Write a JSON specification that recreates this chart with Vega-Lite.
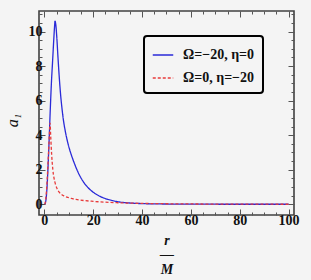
{
  "$schema": "https://vega.github.io/schema/vega-lite/v6.json",
  "width": 255,
  "height": 204,
  "autosize": "none",
  "padding": {"left": 39, "top": 11, "right": 17, "bottom": 65},
  "background": "#f4f4f4",
  "config": {
    "view": {"stroke": "#404040", "strokeWidth": 1.6, "fill": "#f4f4f4"},
    "axis": {
      "domain": false,
      "grid": false,
      "labelFont": "Liberation Serif",
      "labelFontWeight": "bold",
      "labelFontSize": 14,
      "labelColor": "#111",
      "tickColor": "#555",
      "tickWidth": 1,
      "titleFont": "Liberation Serif",
      "titleColor": "#111"
    },
    "legend": {
      "orient": "none",
      "legendX": 105,
      "legendY": 25,
      "strokeColor": "#000",
      "strokeWidth": 2,
      "cornerRadius": 3,
      "padding": 8,
      "fillColor": "#f4f4f4",
      "labelFont": "Liberation Serif",
      "labelFontWeight": "bold",
      "labelFontSize": 14,
      "labelColor": "#111",
      "symbolType": "stroke",
      "symbolSize": 420,
      "symbolStrokeWidth": 1.3,
      "rowPadding": 5,
      "labelOffset": 9
    }
  },
  "data": {
    "values": [
      {"s": "Ω=−20, η=0", "r": 0.3, "a": 0},
      {"s": "Ω=−20, η=0", "r": 0.8, "a": 0.4},
      {"s": "Ω=−20, η=0", "r": 1.2, "a": 1.2},
      {"s": "Ω=−20, η=0", "r": 1.6, "a": 2.4},
      {"s": "Ω=−20, η=0", "r": 2.0, "a": 3.8},
      {"s": "Ω=−20, η=0", "r": 2.45, "a": 5.5},
      {"s": "Ω=−20, η=0", "r": 2.9, "a": 7.0},
      {"s": "Ω=−20, η=0", "r": 3.4, "a": 8.3},
      {"s": "Ω=−20, η=0", "r": 3.9, "a": 9.6},
      {"s": "Ω=−20, η=0", "r": 4.2, "a": 10.3},
      {"s": "Ω=−20, η=0", "r": 4.4, "a": 10.6},
      {"s": "Ω=−20, η=0", "r": 4.7, "a": 10.4},
      {"s": "Ω=−20, η=0", "r": 5.1, "a": 9.7},
      {"s": "Ω=−20, η=0", "r": 5.6, "a": 8.5},
      {"s": "Ω=−20, η=0", "r": 6.2, "a": 7.2},
      {"s": "Ω=−20, η=0", "r": 6.7, "a": 6.3},
      {"s": "Ω=−20, η=0", "r": 7.2, "a": 5.6},
      {"s": "Ω=−20, η=0", "r": 7.8, "a": 4.9},
      {"s": "Ω=−20, η=0", "r": 8.5, "a": 4.3},
      {"s": "Ω=−20, η=0", "r": 9.3, "a": 3.75},
      {"s": "Ω=−20, η=0", "r": 10.2, "a": 3.25},
      {"s": "Ω=−20, η=0", "r": 11.2, "a": 2.8},
      {"s": "Ω=−20, η=0", "r": 12.5, "a": 2.3},
      {"s": "Ω=−20, η=0", "r": 14, "a": 1.8},
      {"s": "Ω=−20, η=0", "r": 16, "a": 1.3},
      {"s": "Ω=−20, η=0", "r": 18, "a": 0.95},
      {"s": "Ω=−20, η=0", "r": 20, "a": 0.7},
      {"s": "Ω=−20, η=0", "r": 22.5, "a": 0.48},
      {"s": "Ω=−20, η=0", "r": 25, "a": 0.33},
      {"s": "Ω=−20, η=0", "r": 28, "a": 0.21},
      {"s": "Ω=−20, η=0", "r": 31, "a": 0.13},
      {"s": "Ω=−20, η=0", "r": 35, "a": 0.075},
      {"s": "Ω=−20, η=0", "r": 40, "a": 0.04},
      {"s": "Ω=−20, η=0", "r": 45, "a": 0.025},
      {"s": "Ω=−20, η=0", "r": 50, "a": 0.015},
      {"s": "Ω=−20, η=0", "r": 60, "a": 0.007},
      {"s": "Ω=−20, η=0", "r": 70, "a": 0.004},
      {"s": "Ω=−20, η=0", "r": 85, "a": 0.002},
      {"s": "Ω=−20, η=0", "r": 100, "a": 0.001},
      {"s": "Ω=0, η=−20", "r": 0.2, "a": 0},
      {"s": "Ω=0, η=−20", "r": 0.6, "a": 0.3},
      {"s": "Ω=0, η=−20", "r": 1.0, "a": 1.0},
      {"s": "Ω=0, η=−20", "r": 1.4, "a": 2.0},
      {"s": "Ω=0, η=−20", "r": 1.8, "a": 3.2},
      {"s": "Ω=0, η=−20", "r": 2.1, "a": 4.1},
      {"s": "Ω=0, η=−20", "r": 2.35, "a": 4.7},
      {"s": "Ω=0, η=−20", "r": 2.6, "a": 4.0},
      {"s": "Ω=0, η=−20", "r": 3.0, "a": 2.9},
      {"s": "Ω=0, η=−20", "r": 3.5, "a": 2.0},
      {"s": "Ω=0, η=−20", "r": 4.0, "a": 1.5},
      {"s": "Ω=0, η=−20", "r": 4.5, "a": 1.2},
      {"s": "Ω=0, η=−20", "r": 5.1, "a": 0.95},
      {"s": "Ω=0, η=−20", "r": 6.0, "a": 0.72},
      {"s": "Ω=0, η=−20", "r": 7.0, "a": 0.58},
      {"s": "Ω=0, η=−20", "r": 8.0, "a": 0.49},
      {"s": "Ω=0, η=−20", "r": 9.2, "a": 0.42},
      {"s": "Ω=0, η=−20", "r": 11, "a": 0.34},
      {"s": "Ω=0, η=−20", "r": 13, "a": 0.28},
      {"s": "Ω=0, η=−20", "r": 16, "a": 0.22},
      {"s": "Ω=0, η=−20", "r": 20, "a": 0.17},
      {"s": "Ω=0, η=−20", "r": 25, "a": 0.12},
      {"s": "Ω=0, η=−20", "r": 30, "a": 0.09},
      {"s": "Ω=0, η=−20", "r": 36, "a": 0.065},
      {"s": "Ω=0, η=−20", "r": 45, "a": 0.04},
      {"s": "Ω=0, η=−20", "r": 55, "a": 0.025},
      {"s": "Ω=0, η=−20", "r": 70, "a": 0.012},
      {"s": "Ω=0, η=−20", "r": 85, "a": 0.006},
      {"s": "Ω=0, η=−20", "r": 100, "a": 0.003}
    ]
  },
  "layer": [
    {
      "mark": {"type": "line", "strokeWidth": 1.3, "interpolate": "monotone"},
      "encoding": {
        "x": {
          "field": "r", "type": "quantitative",
          "scale": {"domain": [-2.17, 102.2], "nice": false, "zero": false},
          "axis": {
            "orient": "bottom",
            "values": [0,5,10,15,20,25,30,35,40,45,50,55,60,65,70,75,80,85,90,95,100],
            "labelExpr": "datum.value % 20 === 0 ? format(datum.value, 'd') : ''",
            "tickSize": {"condition": {"test": "datum.value % 20 === 0", "value": -6}, "value": -3},
            "labelPadding": 4,
            "title": ["r", "—", "M"],
            "titleFontSize": 14,
            "titleFontStyle": "italic",
            "titleFontWeight": "bold",
            "titleLineHeight": 14.5,
            "titleBaseline": "top",
            "titleY": 18
          }
        },
        "y": {
          "field": "a", "type": "quantitative",
          "scale": {"domain": [-0.62, 11.19], "nice": false, "zero": false},
          "axis": {
            "orient": "left",
            "values": [0,0.5,1,1.5,2,2.5,3,3.5,4,4.5,5,5.5,6,6.5,7,7.5,8,8.5,9,9.5,10,10.5,11],
            "labelExpr": "datum.value % 2 === 0 ? format(datum.value, 'd') : ''",
            "tickSize": {"condition": {"test": "datum.value % 2 === 0", "value": -6}, "value": -3},
            "labelPadding": 3,
            "title": "a₁",
            "titleFontSize": 16,
            "titleFontStyle": "italic",
            "titleFontWeight": "normal",
            "titleAngle": -90,
            "titleX": -27,
            "titleY": 109,
            "titleAlign": "center",
            "titleBaseline": "middle"
          }
        },
        "color": {
          "field": "s", "type": "nominal",
          "scale": {"domain": ["Ω=−20, η=0", "Ω=0, η=−20"], "range": ["#2a2ad8", "#e83a3a"]},
          "legend": {"title": null}
        },
        "strokeDash": {
          "field": "s", "type": "nominal",
          "scale": {"domain": ["Ω=−20, η=0", "Ω=0, η=−20"], "range": [[1, 0], [3, 2]]},
          "legend": {"title": null}
        }
      }
    },
    {
      "mark": {"type": "line", "opacity": 0},
      "encoding": {
        "x": {
          "field": "r", "type": "quantitative",
          "axis": {
            "orient": "top",
            "values": [0,5,10,15,20,25,30,35,40,45,50,55,60,65,70,75,80,85,90,95,100],
            "labels": false,
            "tickSize": {"condition": {"test": "datum.value % 20 === 0", "value": -6}, "value": -3},
            "title": null
          }
        },
        "y": {
          "field": "a", "type": "quantitative",
          "axis": {
            "orient": "right",
            "values": [0,0.5,1,1.5,2,2.5,3,3.5,4,4.5,5,5.5,6,6.5,7,7.5,8,8.5,9,9.5,10,10.5,11],
            "labels": false,
            "tickSize": {"condition": {"test": "datum.value % 2 === 0", "value": -6}, "value": -3},
            "title": null
          }
        },
        "detail": {"field": "s", "type": "nominal"}
      }
    }
  ],
  "resolve": {"axis": {"x": "independent", "y": "independent"}}
}
